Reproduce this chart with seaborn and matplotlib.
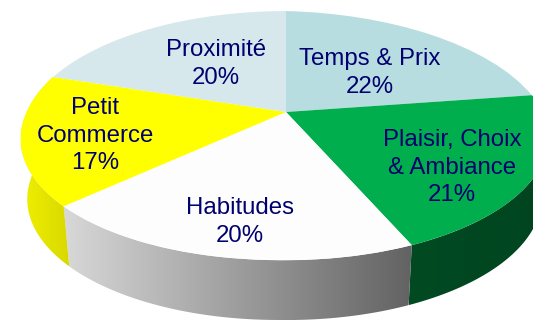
import numpy as np
import matplotlib
matplotlib.use("Agg")
import matplotlib.pyplot as plt
import seaborn as sns
from matplotlib.colors import LinearSegmentedColormap
from matplotlib.patches import Polygon
from matplotlib.transforms import Transform

# Data
categories = ["Temps & Prix", "Plaisir, Choix\n& Ambiance", "Habitudes", "Petit\nCommerce", "Proximité"]
shares = [22, 21, 20, 17, 20]

# Styles and placement
top_colors = ["#b8dde1", "#00ae4e", "#fdfdfd", "#ffff00", "#d6e8ec"]
wall_colors = {1: ("#004a22", "#004520"), 2: ("#d8d8d8", "#626262"), 3: ("#f0f000", "#d8d800")}
label_xy = [(370, 73), (452, 167.5), (240, 222), (95, 135.5), (216, 64)]
CX, CY, A, B, K = 286.0, 112.0, 259.0, 120.0, 0.189
LOWER_SHEAR, RIGHT_DROP = 8.0, 5.0
DEPTH, FOOT_SCALE = 60.0, 0.975


class DiskProjection(Transform):
    """Perspective view of the unit pie disk, in pixel-like data units."""
    input_dims = 2
    output_dims = 2
    is_separable = False
    has_inverse = False

    def transform_non_affine(self, values):
        values = np.asarray(values, float)
        x, y = values[:, 0], values[:, 1]
        w = 1 + K * y
        sx = CX + A * x / w - LOWER_SHEAR * np.maximum(-y, 0)
        sy = CY - B * y / w + RIGHT_DROP * np.maximum(x, 0)
        return np.column_stack((sx, sy))


sns.set_theme(style="white")
plt.rcParams["font.family"] = ["Liberation Sans", "DejaVu Sans"]

fig, ax = plt.subplots(figsize=(5.33, 3.2), dpi=100)
fig.subplots_adjust(0, 0, 1, 1)

wedges, _ = ax.pie(shares, colors=sns.color_palette(top_colors), startangle=90,
                   counterclock=False, wedgeprops=dict(linewidth=0))
ax.set_aspect("auto")

projection = DiskProjection()
for w in wedges:
    w.set_transform(projection + ax.transData)
    w.set_zorder(3)

# Side walls of the near slices
for i, (c0, c1) in wall_colors.items():
    w = wedges[i]
    th = np.radians(np.linspace(w.theta1, w.theta2, 120))
    rim = projection.transform_non_affine(np.column_stack((np.cos(th), np.sin(th))))
    foot = np.column_stack((CX + (rim[:, 0] - CX) * FOOT_SCALE, rim[:, 1] + DEPTH))
    outline = np.vstack((rim, foot[::-1]))
    poly = Polygon(outline, closed=True, transform=ax.transData, fc="none", ec="none")
    cmap = LinearSegmentedColormap.from_list(f"wall{i}", [c0, c1])
    im = ax.imshow(np.linspace(0, 1, 256).reshape(1, -1), cmap=cmap, aspect="auto", zorder=2,
                   extent=(outline[:, 0].min(), outline[:, 0].max(),
                           outline[:, 1].max(), outline[:, 1].min()))
    im.set_clip_path(poly)

ax.set_xlim(0, 533)
ax.set_ylim(320, 0)
ax.axis("off")

for name, share, (x, y) in zip(categories, shares, label_xy):
    ax.text(x, y, f"{name}\n{share}%", ha="center", va="center", fontsize=17.3,
            color="#00006e", linespacing=1.32, zorder=5)

fig.savefig("out.png", dpi=100, facecolor="white")
